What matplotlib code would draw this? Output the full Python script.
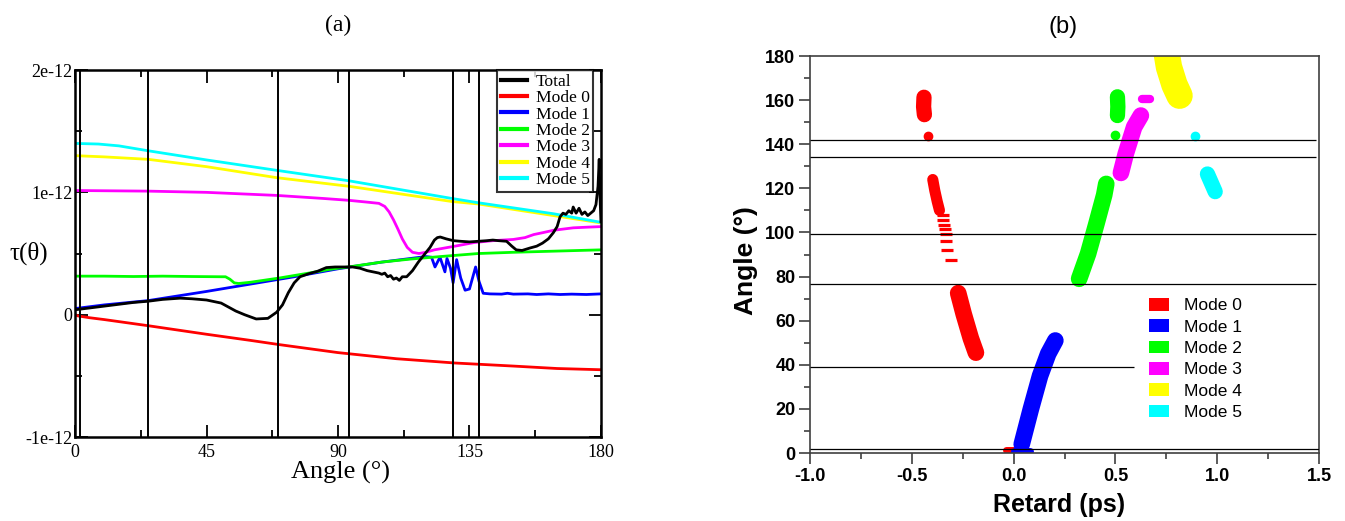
import numpy as np
import matplotlib.pyplot as plt
from matplotlib.patches import Patch
from matplotlib.ticker import MultipleLocator, FormatStrFormatter

# ---------- (a) tau(theta), valores em unidades de 1e-12 ----------
ang_total = [0, 5, 10, 15, 20, 25, 30, 36, 40, 45, 50, 55, 58, 62, 66, 69, 71, 73, 75, 77,
             80, 83, 86, 89, 92, 95, 97.5, 100, 102, 104, 105, 106, 107, 108, 109, 110, 111,
             112, 113.5, 115.5, 117.5, 119.5, 121.5, 123, 124, 125, 127, 129.5, 132, 135,
             138, 141, 143, 145, 147.7, 149.5, 151, 153, 155.7, 158, 160, 162, 163.7, 165,
             166, 167, 168, 169, 170, 170.5, 171.5, 172.5, 173.5, 174.5, 175.5, 176.5, 177.5,
             178.3, 179, 179.4, 179.7, 180]
tau_total = [0.04, 0.055, 0.07, 0.085, 0.10, 0.11, 0.125, 0.135, 0.13, 0.12, 0.095, 0.03, 0.0,
             -0.035, -0.03, 0.02, 0.08, 0.18, 0.26, 0.31, 0.335, 0.355, 0.385, 0.39, 0.39,
             0.39, 0.38, 0.36, 0.35, 0.34, 0.33, 0.34, 0.31, 0.32, 0.29, 0.30, 0.28, 0.31,
             0.31, 0.36, 0.43, 0.49, 0.55, 0.61, 0.63, 0.635, 0.62, 0.605, 0.60, 0.595, 0.60,
             0.605, 0.61, 0.605, 0.60, 0.56, 0.53, 0.525, 0.545, 0.56, 0.585, 0.62, 0.67,
             0.72, 0.80, 0.83, 0.82, 0.85, 0.83, 0.88, 0.83, 0.87, 0.82, 0.84, 0.81, 0.83,
             0.85, 0.90, 1.05, 1.27, 0.95, 0.76]

ang_m0 = [0, 1, 5, 10, 25, 45, 60, 70, 90, 110, 130, 150, 165, 180]
tau_m0 = [0.0, -0.01, -0.025, -0.04, -0.09, -0.16, -0.21, -0.245, -0.31, -0.36, -0.395,
          -0.42, -0.44, -0.45]

ang_m1 = [0, 10, 25, 45, 60, 75, 90, 105, 115, 120, 122, 123.2, 124.9, 126.6, 127.3, 128.5,
          129.4, 130.6, 132, 133.5, 135, 137.1, 138.3, 139.7, 142, 146, 148, 150, 155, 158,
          162, 166, 170, 175, 180]
tau_m1 = [0.05, 0.08, 0.115, 0.19, 0.25, 0.31, 0.375, 0.43, 0.46, 0.475, 0.47, 0.39, 0.47,
          0.35, 0.46, 0.38, 0.26, 0.45, 0.30, 0.20, 0.21, 0.39, 0.27, 0.175, 0.17, 0.168,
          0.175, 0.168, 0.17, 0.165, 0.17, 0.165, 0.168, 0.165, 0.17]

ang_m2 = [0, 10, 20, 30, 40, 50, 51.5, 53, 54.5, 56, 60, 70, 80, 87, 95, 105, 115, 125,
          138, 150, 165, 180]
tau_m2 = [0.315, 0.315, 0.312, 0.315, 0.312, 0.31, 0.31, 0.29, 0.26, 0.255, 0.265, 0.30,
          0.34, 0.37, 0.395, 0.43, 0.455, 0.475, 0.50, 0.51, 0.52, 0.53]

ang_m3 = [0, 25, 45, 69, 85, 93.6, 100, 104, 106, 107.5, 109, 110.5, 112, 113.7, 115.5,
          117.7, 120, 123, 130, 136.7, 143, 150, 154, 157, 160, 163.8, 170.5, 175, 180]
tau_m3 = [1.015, 1.01, 1.0, 0.975, 0.95, 0.935, 0.92, 0.91, 0.885, 0.84, 0.775, 0.70, 0.62,
          0.55, 0.51, 0.50, 0.51, 0.53, 0.56, 0.59, 0.605, 0.615, 0.63, 0.655, 0.67, 0.69,
          0.71, 0.715, 0.72]

ang_m4 = [0, 10, 25, 45, 69, 93.6, 129, 138, 163.8, 180]
tau_m4 = [1.30, 1.29, 1.27, 1.21, 1.12, 1.05, 0.925, 0.905, 0.81, 0.75]

ang_m5 = [0, 8, 15, 25, 45, 69, 93.6, 129, 138, 163.8, 180]
tau_m5 = [1.40, 1.395, 1.38, 1.34, 1.265, 1.18, 1.095, 0.95, 0.915, 0.825, 0.755]

vlines_a = [1.7, 25.0, 69.3, 93.7, 129.2, 138.2]

# ---------- (b) retard x angulo ----------
# cada faixa: (retard, angulo) ao longo do centro da nuvem de pontos
m0_streaks = [([-0.44, -0.442, -0.438], [161.3, 157, 153.4]),
              ([-0.397, -0.387, -0.375, -0.364], [124, 119, 114, 110]),
              ([-0.272, -0.245, -0.21, -0.185], [72.5, 63, 52, 45.5]),
              ([-0.035, 0.0], [1.2, 1.2])]
m0_dots_x = [-0.418]
m0_dots_y = [143.7]
m0_dash_x = [-0.348, -0.345, -0.34, -0.337, -0.332, -0.332, -0.325, -0.305]
m0_dash_y = [107.8, 105.5, 103.2, 101.7, 99.4, 96.0, 92.2, 87.4]

m1_streaks = [([0.04, 0.085, 0.13, 0.17, 0.205], [4, 20, 35, 45, 51]),
              ([0.0, 0.08], [1.0, 1.0])]

m2_streaks = [([0.51, 0.512, 0.51], [161.5, 157, 153]),
              ([0.322, 0.366, 0.407, 0.445, 0.455], [79, 90.4, 104, 117, 122])]
m2_dots_x = [0.50]
m2_dots_y = [144]

m3_streaks = [([0.527, 0.551, 0.592, 0.625], [127, 135.7, 147.8, 153]),
              ([0.63, 0.67], [160.3, 160.3])]

m4_streaks = [([0.745, 0.763, 0.79, 0.815], [185, 175, 167, 162])]

m5_streaks = [([0.952, 0.99], [126.5, 118.5])]
m5_dots_x = [0.89]
m5_dots_y = [143.6]

hline_angles = [142.1, 134.4, 99.1, 76.5, 38.8, 2.0]
hline_ends = [1.483, 1.483, 1.483, 1.483, 0.59, 1.5]

modes = ['Mode 0', 'Mode 1', 'Mode 2', 'Mode 3', 'Mode 4', 'Mode 5']
cores = ['#ff0000', '#0000ff', '#00ff00', '#ff00ff', '#ffff00', '#00ffff']

fig = plt.figure(figsize=(13.45, 5.21), dpi=100)
axa = fig.add_axes([0.0558, 0.1612, 0.391, 0.7044])
axb = fig.add_axes([0.6022, 0.1305, 0.3785, 0.762])

# ----- painel (a) -----
serif = 'Liberation Serif'
e12 = 1e-12
series_a = [(ang_m0, tau_m0), (ang_m1, tau_m1), (ang_m2, tau_m2),
            (ang_m3, tau_m3), (ang_m4, tau_m4), (ang_m5, tau_m5)]
hands = []
h, = axa.plot(ang_total, np.array(tau_total) * e12, color='black', lw=2.0, zorder=4, label='Total')
hands.append(h)
for (a, t), nome, c in zip(series_a, modes, cores):
    h, = axa.plot(a, np.array(t) * e12, color=c, lw=2.0, label=nome)
    hands.append(h)
for v in vlines_a:
    axa.axvline(v, color='black', lw=1.4, zorder=5)

axa.set_xlim(0, 180)
axa.set_ylim(-1e-12, 2e-12)
axa.set_xticks([0, 45, 90, 135, 180])
axa.xaxis.set_minor_locator(MultipleLocator(22.5))
axa.set_yticks([-1e-12, 0, 1e-12, 2e-12])
axa.set_yticklabels(['-1e-12', '0', '1e-12', '2e-12'])
axa.yaxis.set_minor_locator(MultipleLocator(0.5e-12))
axa.tick_params(which='both', direction='in', top=True, right=True, width=1.3)
axa.tick_params(which='major', length=9)
axa.tick_params(which='minor', length=5)
axa.tick_params(axis='x', pad=5)
axa.tick_params(axis='y', pad=2)
for lab in axa.get_xticklabels() + axa.get_yticklabels():
    lab.set_fontfamily(serif)
    lab.set_fontsize(13)
for s in axa.spines.values():
    s.set_linewidth(1.8)

axa.set_xlabel('Angle (°)', fontsize=19, family=serif, va='top')
axa.xaxis.set_label_coords(0.504, -0.066)
axa.set_ylabel('τ(θ)', fontsize=18, family=serif, rotation=0, ha='center', va='center')
axa.yaxis.set_label_coords(-0.088, 0.501)

leg = axa.legend(handles=hands, loc='upper right', bbox_to_anchor=(0.985, 1.0),
                 prop={'family': serif, 'size': 12.6}, frameon=True, fancybox=False,
                 borderpad=0.2, labelspacing=0.01, handlelength=1.5, handletextpad=0.5,
                 borderaxespad=0)
leg.get_frame().set_edgecolor('black')
leg.get_frame().set_linewidth(1.5)
for l in leg.get_lines():
    l.set_linewidth(3)

fig.text(338 / 1345, 1 - 25 / 521, '(a)', fontsize=17, family=serif, ha='center', va='center')

# ----- painel (b) -----
sans = 'Liberation Sans'
todas = [m0_streaks, m1_streaks, m2_streaks, m3_streaks, m4_streaks, m5_streaks]
larg = [[11, 8, 12, 5], [12, 5], [11, 12], [12, 6], [19], [11]]
for streaks, ws, c in zip(todas, larg, cores):
    for (x, y), w in zip(streaks, ws):
        axb.plot(x, y, color=c, lw=w, solid_capstyle='round', solid_joinstyle='round', zorder=2)
axb.plot(m0_dash_x, m0_dash_y, ls='none', marker='_', ms=9, mew=2.3, color=cores[0], zorder=2)
for dx, dy, c in [(m0_dots_x, m0_dots_y, cores[0]), (m2_dots_x, m2_dots_y, cores[2]),
                  (m5_dots_x, m5_dots_y, cores[5])]:
    axb.plot(dx, dy, ls='none', marker='o', ms=6, color=c, zorder=2)

for ang, fim in zip(hline_angles, hline_ends):
    axb.hlines(ang, -1.0, fim, color='black', lw=0.9, zorder=3)

axb.set_xlim(-1.0, 1.5)
axb.set_ylim(0, 180)
axb.set_xticks([-1.0, -0.5, 0.0, 0.5, 1.0, 1.5])
axb.xaxis.set_major_formatter(FormatStrFormatter('%.1f'))
axb.xaxis.set_minor_locator(MultipleLocator(0.25))
axb.set_yticks(range(0, 181, 20))
axb.yaxis.set_minor_locator(MultipleLocator(10))
axb.tick_params(which='both', direction='out', color='#404040', width=1.2)
axb.tick_params(which='major', length=8, pad=2.5)
axb.tick_params(which='minor', length=4)
for lab in axb.get_xticklabels() + axb.get_yticklabels():
    lab.set_fontfamily(sans)
    lab.set_fontweight('bold')
    lab.set_fontsize(13)
for s in axb.spines.values():
    s.set_color('#404040')
    s.set_linewidth(1.2)

axb.set_xlabel('Retard (ps)', fontsize=18, family=sans, fontweight='bold', va='top')
axb.xaxis.set_label_coords(0.489, -0.10)
axb.set_ylabel('Angle (°)', fontsize=19, family=sans, fontweight='bold', va='center')
axb.yaxis.set_label_coords(-0.126, 0.486)

patches = [Patch(facecolor=c, edgecolor='none', label=m) for c, m in zip(cores, modes)]
axb.legend(handles=patches, loc='upper left', bbox_to_anchor=(1148.5 / 1345, 1 - 298 / 521),
           bbox_transform=fig.transFigure, frameon=False, prop={'family': sans, 'size': 12.5},
           borderpad=0, labelspacing=0.34, handlelength=1.2, handleheight=0.75,
           handletextpad=0.85, borderaxespad=0)

fig.text(1063 / 1345, 1 - 27 / 521, '(b)', fontsize=17, family=sans, ha='center', va='center')

plt.savefig('out.png', dpi=100)
